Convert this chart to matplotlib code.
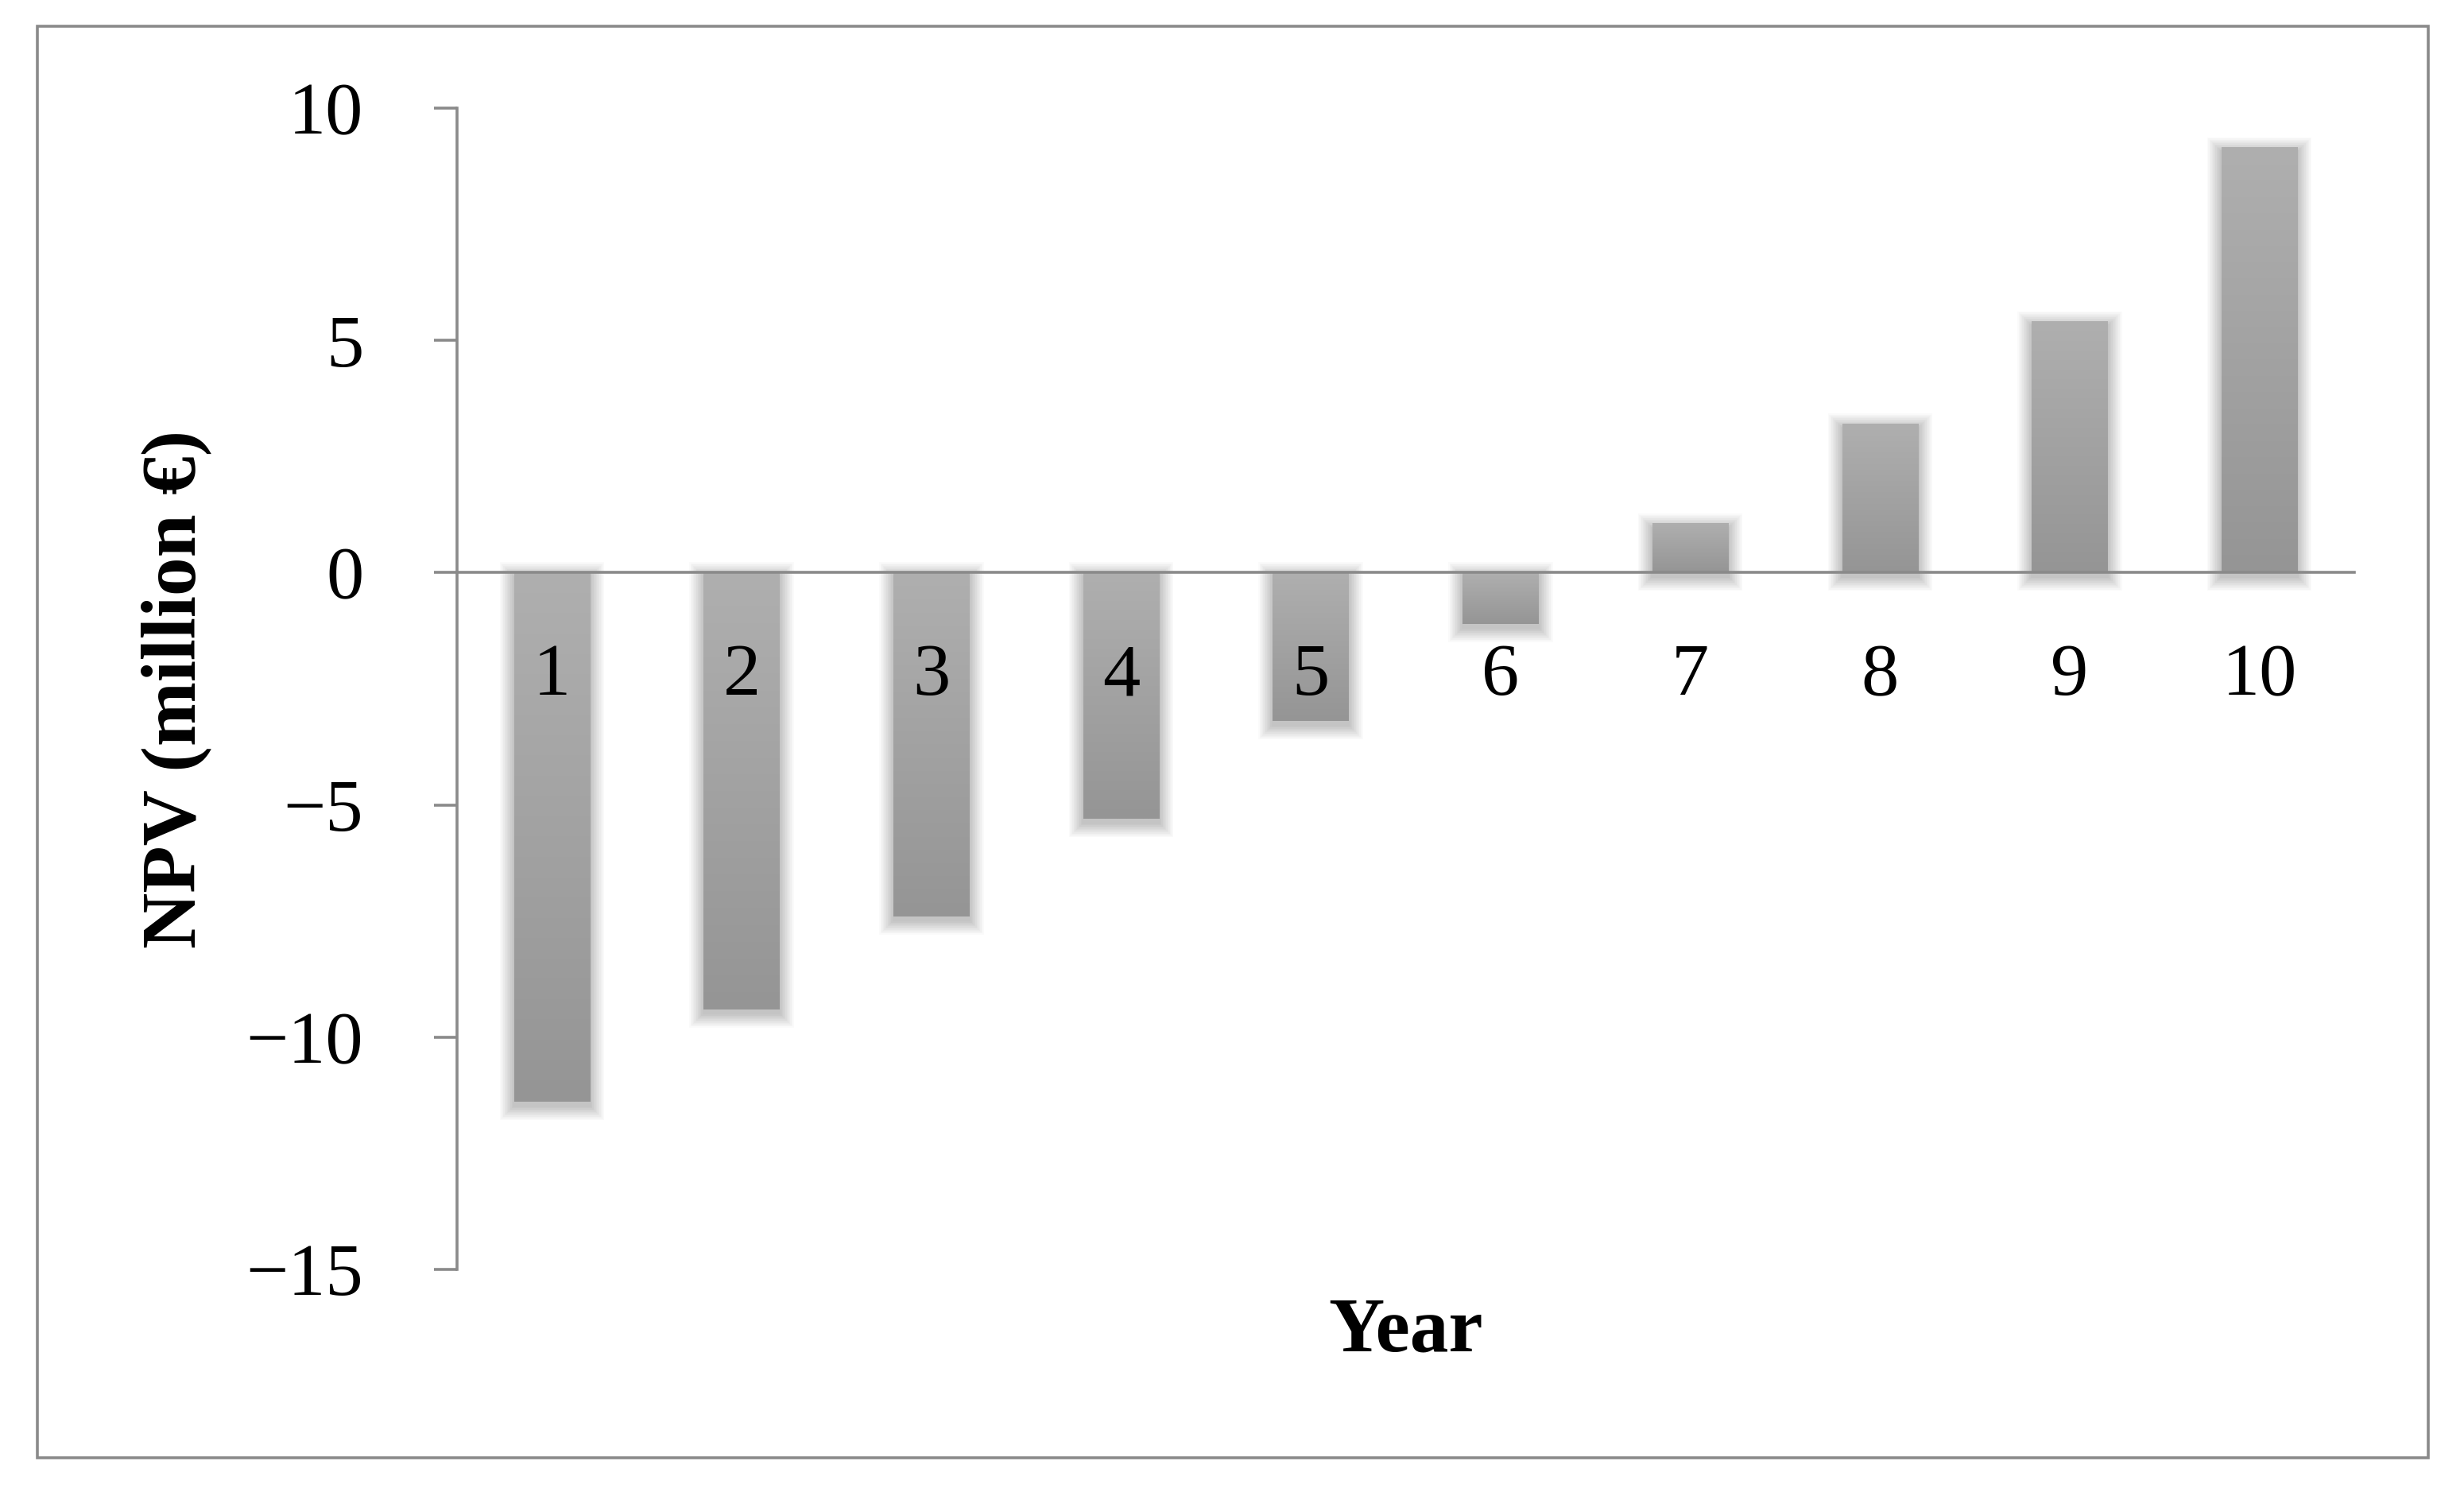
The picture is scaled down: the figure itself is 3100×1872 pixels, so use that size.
import numpy as np
import matplotlib.pyplot as plt
from matplotlib.patches import Rectangle
from matplotlib.colors import LinearSegmentedColormap

# data
years = [1, 2, 3, 4, 5, 6, 7, 8, 9, 10]
npv = [-11.4, -9.4, -7.4, -5.3, -3.2, -1.1, 1.05, 3.2, 5.4, 9.15]
y_ticks = [-15, -10, -5, 0, 5, 10]

plt.rcParams['font.family'] = ['Liberation Serif', 'DejaVu Serif']
plt.rcParams['axes.unicode_minus'] = True

fig = plt.figure(figsize=(15.5, 9.36), dpi=200)
ax = fig.add_axes([0.1855, 0.147, 0.9555 - 0.1855, 0.9273 - 0.147])

axis_grey = '#8a8a8a'
bar_cmap = LinearSegmentedColormap.from_list('bar', ['#afafaf', '#959595'])
grad = np.linspace(0, 1, 256).reshape(-1, 1)

width = 0.4
bars = ax.bar(years, npv, width=width, color='none', zorder=2)

# soft shadow (stacked translucent rectangles) + vertical gradient fill
px_x = 1 / 239.0   # data units per pixel, horizontal
px_y = 1 / 58.5    # data units per pixel, vertical
for b in bars:
    x0 = b.get_x()
    w = b.get_width()
    y0 = min(b.get_y(), b.get_y() + b.get_height())
    h = abs(b.get_height())
    for k in range(1, 13):
        s = k * 1.5
        ax.add_patch(Rectangle((x0 - s * px_x, y0 - s * px_y - 5 * px_y),
                               w + 2 * s * px_x, h + 2 * s * px_y,
                               facecolor='black', edgecolor='none',
                               alpha=0.02, zorder=1))
    ax.imshow(grad, cmap=bar_cmap, aspect='auto', origin='upper',
              extent=[x0, x0 + w, y0, y0 + h], zorder=2, interpolation='bilinear')

ax.set_xlim(0.5, 10.5)
ax.set_ylim(-15, 10)

# axes styling
for side in ['top', 'right']:
    ax.spines[side].set_visible(False)
ax.spines['bottom'].set_position(('data', 0))
ax.spines['bottom'].set_color(axis_grey)
ax.spines['bottom'].set_linewidth(1.3)
ax.spines['bottom'].set_zorder(3)
ax.spines['left'].set_color(axis_grey)
ax.spines['left'].set_linewidth(1.3)

ax.set_yticks(y_ticks)
ax.set_xticks(years)
ax.set_xticklabels([str(y) for y in years])
ax.tick_params(axis='y', direction='out', length=10.4, width=1.3,
               color=axis_grey, pad=32, labelsize=34)
ax.tick_params(axis='x', length=0, pad=32, labelsize=34)
ax.xaxis.set_zorder(5)

ax.text(-0.148, 0.5, 'NPV (million €)', transform=ax.transAxes, rotation=90,
        ha='center', va='center', fontsize=35, fontweight='bold')
ax.text(0.5, -0.054, 'Year', transform=ax.transAxes,
        ha='center', va='center', fontsize=35, fontweight='bold')

# outer frame around the chart
fig.patches.append(Rectangle((47 / 3100, 1 - 1834 / 1872),
                             (3055 - 47) / 3100, (1834 - 33) / 1872,
                             transform=fig.transFigure, fill=False,
                             edgecolor=axis_grey, linewidth=1.3))

fig.savefig('out.png', dpi=200)
